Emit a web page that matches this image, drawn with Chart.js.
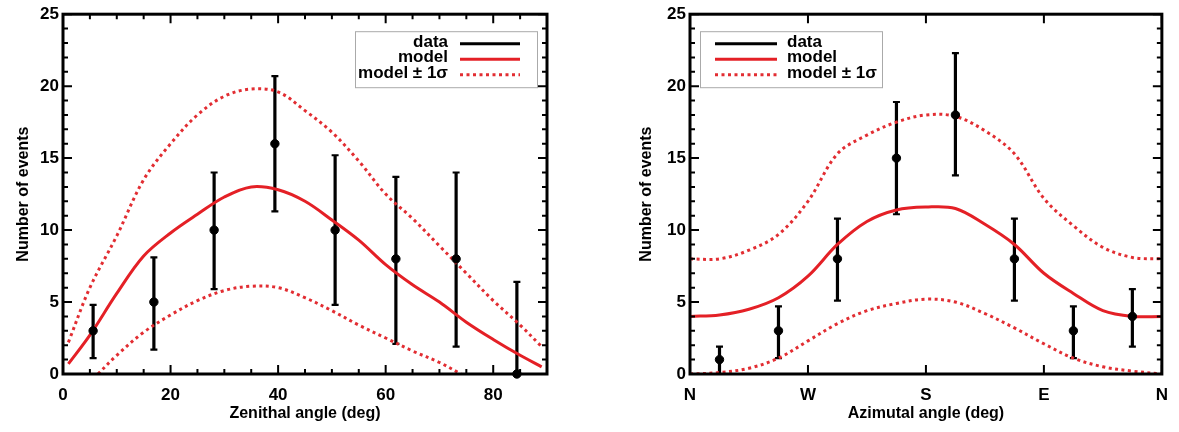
<!DOCTYPE html>
<html>
<head>
<meta charset="utf-8">
<script src="https://cdn.jsdelivr.net/npm/chart.js@4.4.1/dist/chart.umd.min.js"></script>
<style>
	html, body { margin: 0; padding: 0; background: #fff; }
	#wrap { position: relative; width: 1179px; height: 432px; }
	.box { position: absolute; top: 0; height: 432px; }
</style>
</head>
<body>
<div id="wrap">
	<div class="box" style="left:0;width:590px"><canvas id="zenith" width="590" height="432"></canvas></div>
	<div class="box" style="left:590px;width:589px"><canvas id="azimuth" width="589" height="432"></canvas></div>
</div>
<script>
// ---- zenith panel ----
const zenithX = [5.6, 16.9, 28.1, 39.4, 50.6, 61.9, 73.1, 84.4];
const zenithCounts = [3, 5, 10, 16, 10, 8, 8, 0];
const zenithErrLow = [1.1, 1.7, 5.9, 11.3, 4.8, 2.1, 1.9, 0];
const zenithErrHigh = [4.8, 8.1, 14.0, 20.7, 15.2, 13.7, 14.0, 6.4];

const zenithModelX = [1, 5, 10, 15, 20, 25, 30, 35, 40, 45, 50, 55, 60, 65, 70, 75, 80, 85, 89];
const zenithModel = [0.7, 2.7, 5.6, 8.2, 9.8, 11.1, 12.3, 13.0, 12.8, 12.0, 10.7, 9.3, 7.6, 6.2, 5.0, 3.6, 2.4, 1.3, 0.5];
const zenithModelHigh = [2.2, 6.0, 9.6, 13.5, 16.0, 18.0, 19.3, 19.8, 19.6, 18.3, 16.8, 14.8, 12.5, 10.8, 8.9, 7.0, 5.1, 3.4, 1.9];
const zenithLowX = [6.5, 10, 15, 20, 25, 30, 35, 40, 45, 50, 55, 60, 65, 70, 74];
const zenithModelLow = [0, 1.3, 2.9, 4.1, 5.1, 5.8, 6.1, 6.0, 5.3, 4.4, 3.4, 2.5, 1.6, 0.8, 0];

// ---- azimuth panel ----
const azimuthX = [22.5, 67.5, 112.5, 157.5, 202.5, 247.5, 292.5, 337.5];
const azimuthCounts = [1, 3, 8, 15, 18, 8, 3, 4];
const azimuthErrLow = [0, 1.1, 5.1, 11.1, 13.8, 5.1, 1.1, 1.9];
const azimuthErrHigh = [1.9, 4.7, 10.8, 18.9, 22.3, 10.8, 4.7, 5.9];

const azimuthModelX = [0, 22.5, 45, 67.5, 90, 112.5, 135, 157.5, 180, 202.5, 225, 247.5, 270, 292.5, 315, 337.5, 360];
const azimuthModel = [4.0, 4.1, 4.5, 5.3, 6.8, 9.0, 10.6, 11.4, 11.6, 11.5, 10.4, 9.0, 7.0, 5.6, 4.4, 4.0, 4.0];
const azimuthModelHigh = [8.0, 8.0, 8.6, 9.7, 12.0, 15.3, 16.6, 17.5, 18.0, 17.9, 16.9, 15.3, 12.2, 10.3, 8.8, 8.1, 8.0];
const azimuthModelLow = [0, 0.1, 0.4, 1.1, 2.3, 3.5, 4.4, 4.9, 5.2, 5.0, 4.2, 3.2, 2.1, 1.1, 0.5, 0.2, 0];

const compassLabels = ['N', 'W', 'S', 'E', 'N'];
const legendLabels = ['data', 'model', 'model \u00B1 1\u03C3'];

const FONT = '"Liberation Sans", Arial, Helvetica, sans-serif';
const RED = 'rgb(228,32,38)';
const RED_DOT = 'rgb(226,45,50)';

function pts(xs, ys) {
	return xs.map((x, i) => ({x: x, y: ys[i]}));
}

// error bars drawn through the scales
const errorBars = {
	id: 'errorBars',
	beforeDatasetsDraw(chart, args, o) {
		const {ctx, scales: {x, y}} = chart;
		ctx.save();
		ctx.strokeStyle = '#000';
		o.x.forEach(function (xv, i) {
			const px = x.getPixelForValue(xv);
			const top = y.getPixelForValue(o.high[i]);
			const bot = y.getPixelForValue(o.low[i]);
			ctx.lineWidth = 3.2;
			ctx.beginPath();
			ctx.moveTo(px, top);
			ctx.lineTo(px, bot);
			ctx.stroke();
			ctx.lineWidth = 2.2;
			ctx.beginPath();
			ctx.moveTo(px - 3.5, top);
			ctx.lineTo(px + 3.5, top);
			ctx.moveTo(px - 3.5, bot);
			ctx.lineTo(px + 3.5, bot);
			ctx.stroke();
		});
		ctx.restore();
	}
};

// frame with inward ticks on all four sides
const frameTicks = {
	id: 'frameTicks',
	afterDatasetsDraw(chart, args, o) {
		const {ctx, chartArea: a, scales: {x, y}} = chart;
		ctx.save();
		ctx.strokeStyle = '#000';
		ctx.lineWidth = 2;
		ctx.beginPath();
		let n = Math.round((x.max - x.min) / o.xMinor);
		for (let i = 0; i <= n; i++) {
			const v = x.min + i * o.xMinor;
			const len = (Math.round(v / o.xMinor) % (o.xMajor / o.xMinor) === 0) ? 9 : 5;
			const px = x.getPixelForValue(v);
			ctx.moveTo(px, a.bottom); ctx.lineTo(px, a.bottom - len);
			ctx.moveTo(px, a.top); ctx.lineTo(px, a.top + len);
		}
		n = Math.round((y.max - y.min) / o.yMinor);
		for (let i = 0; i <= n; i++) {
			const v = y.min + i * o.yMinor;
			const len = (Math.round(v / o.yMinor) % (o.yMajor / o.yMinor) === 0) ? 9 : 5;
			const py = y.getPixelForValue(v);
			ctx.moveTo(a.left, py); ctx.lineTo(a.left + len, py);
			ctx.moveTo(a.right, py); ctx.lineTo(a.right - len, py);
		}
		ctx.stroke();
		ctx.lineWidth = 3;
		ctx.strokeRect(a.left, a.top, a.right - a.left, a.bottom - a.top);
		ctx.restore();
	}
};

// boxed legend, line samples on one side of the labels
const legendBox = {
	id: 'legendBox',
	afterDraw(chart, args, o) {
		const {ctx, chartArea: a} = chart;
		const w = 182, h = 56;
		const x0 = o.side === 'right' ? a.right - 10 - w : a.left + 10;
		const y0 = a.top + 17;
		ctx.save();
		ctx.fillStyle = '#fff';
		ctx.fillRect(x0, y0, w, h);
		ctx.strokeStyle = '#aaa';
		ctx.lineWidth = 1;
		ctx.strokeRect(x0 + 0.5, y0 + 0.5, w, h);
		ctx.font = 'bold 17px ' + FONT;
		ctx.textBaseline = 'middle';
		ctx.fillStyle = '#000';
		const styles = [
			{c: '#000', d: []},
			{c: RED, d: []},
			{c: RED_DOT, d: [3, 3.5]}
		];
		legendLabels.forEach(function (lab, i) {
			const ty = y0 + 11 + i * 15.5;
			const ly = ty + 1.5;
			let l1, l2;
			if (o.side === 'right') {
				ctx.textAlign = 'right';
				ctx.fillText(lab, x0 + 93, ty);
				l1 = x0 + 105; l2 = x0 + 165;
			} else {
				ctx.textAlign = 'left';
				ctx.fillText(lab, x0 + 87, ty);
				l1 = x0 + 15; l2 = x0 + 77;
			}
			ctx.strokeStyle = styles[i].c;
			ctx.setLineDash(styles[i].d);
			ctx.lineWidth = 3;
			ctx.beginPath();
			ctx.moveTo(l1, ly);
			ctx.lineTo(l2, ly);
			ctx.stroke();
		});
		ctx.restore();
	}
};

function makeChart(id, cfg) {
	const tickFont = {family: FONT, size: 17, weight: 'bold'};
	const titleFont = {family: FONT, size: 16, weight: 'bold'};
	return new Chart(document.getElementById(id), {
		type: 'scatter',
		data: {
			datasets: [{
				data: pts(cfg.x, cfg.counts),
				pointRadius: 4.2,
				pointBackgroundColor: '#000',
				pointBorderColor: '#000',
				showLine: false,
				clip: false
			}, {
				data: pts(cfg.modelX, cfg.model),
				showLine: true,
				borderColor: RED,
				borderWidth: 3,
				pointRadius: 0,
				tension: 0.35
			}, {
				data: pts(cfg.modelX, cfg.high),
				showLine: true,
				borderColor: RED_DOT,
				borderWidth: 3,
				borderDash: [3, 3.5],
				pointRadius: 0,
				tension: 0.35
			}, {
				data: pts(cfg.lowX, cfg.low),
				showLine: true,
				borderColor: RED_DOT,
				borderWidth: 3,
				borderDash: [3, 3.5],
				pointRadius: 0,
				tension: 0.35
			}]
		},
		options: {
			responsive: false,
			animation: false,
			layout: {padding: cfg.padding},
			plugins: {
				legend: {display: false},
				tooltip: {enabled: false},
				errorBars: {x: cfg.x, low: cfg.errLow, high: cfg.errHigh},
				frameTicks: cfg.frame,
				legendBox: {side: cfg.legendSide}
			},
			scales: {
				x: {
					type: 'linear',
					min: cfg.xMin,
					max: cfg.xMax,
					afterFit: function (s) { s.height = 52; },
					grid: {display: false, drawTicks: false},
					border: {display: false},
					ticks: {
						stepSize: cfg.frame.xMajor,
						autoSkip: false,
						maxRotation: 0,
						padding: 11,
						color: '#000',
						font: tickFont,
						callback: cfg.xLabel
					},
					title: {display: true, text: cfg.xTitle, color: '#000', font: titleFont, padding: {top: 4, bottom: 3}}
				},
				y: {
					min: 0,
					max: 25,
					afterFit: function (s) { s.width = cfg.yWidth; },
					grid: {display: false, drawTicks: false},
					border: {display: false},
					ticks: {stepSize: 5, padding: 4, color: '#000', font: tickFont},
					title: {display: true, text: 'Number of events', color: '#000', font: titleFont, padding: {top: 4, bottom: 4}}
				}
			}
		},
		plugins: [errorBars, frameTicks, legendBox]
	});
}

makeChart('zenith', {
	x: zenithX, counts: zenithCounts, errLow: zenithErrLow, errHigh: zenithErrHigh,
	modelX: zenithModelX, model: zenithModel, high: zenithModelHigh,
	lowX: zenithLowX, low: zenithModelLow,
	xMin: 0, xMax: 90,
	xTitle: 'Zenithal angle (deg)',
	xLabel: function (v) { return v % 20 === 0 ? v : null; },
	frame: {xMajor: 20, xMinor: 5, yMajor: 5, yMinor: 1},
	padding: {left: 10, top: 10, right: 43, bottom: 6},
	yWidth: 53,
	legendSide: 'right'
});

makeChart('azimuth', {
	x: azimuthX, counts: azimuthCounts, errLow: azimuthErrLow, errHigh: azimuthErrHigh,
	modelX: azimuthModelX, model: azimuthModel, high: azimuthModelHigh,
	lowX: azimuthModelX, low: azimuthModelLow,
	xMin: 0, xMax: 360,
	xTitle: 'Azimutal angle (deg)',
	xLabel: function (v) { return v % 90 === 0 ? compassLabels[v / 90] : null; },
	frame: {xMajor: 90, xMinor: 90, yMajor: 5, yMinor: 1},
	padding: {left: 43, top: 10, right: 9, bottom: 6},
	yWidth: 57,
	legendSide: 'left'
});
</script>
</body>
</html>
